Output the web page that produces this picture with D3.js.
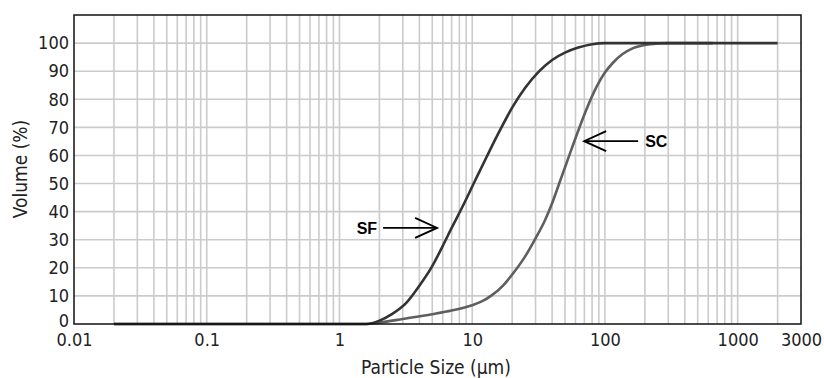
<!DOCTYPE html>
<html><head><meta charset="utf-8">
<script src="https://cdn.jsdelivr.net/npm/d3@7"></script>
<style>
body{margin:0;background:#fff;}
text{font-family:"DejaVu Sans Condensed","DejaVu Sans",sans-serif;}
</style></head>
<body><svg id="c" width="824" height="378"></svg>
<script>
// Data
const xTickLabels = [0.01, 0.1, 1, 10, 100, 1000, 3000];
const yTickLabels = [0,10,20,30,40,50,60,70,80,90,100];
const sfSize = [0.02,1.6,2,2.5,3.2,4,5,6,7,8.5,10.5,13,16.2,20,25,32,40,50,63,80,100,2000];
const sfVol  = [0,0,1.2,3.6,7.6,13.6,20.6,27.8,34.2,42,51,60,69,77,84,90,94,96.6,98.4,99.6,100,100];
const scSize = [0.02,1.6,2,3,5,7,10,12,14,17,20.3,25,30,35,40,46,52,62,72,82,100,115,135,163,220,300,650];
const scVol  = [0,0,0.5,1.8,3.5,4.8,6.7,8.2,10.2,13.6,18,24,30.5,36.5,43,51,58,68,76,82.2,89.5,93,96,98.2,99.6,100,100];
const labels = [{name:"SF", x:5.44, y:34.2, dir:1}, {name:"SC", x:69.7, y:65.1, dir:-1}];

const svg = d3.select("#c");
const m = {l:74, r:801, t:15, b:324};
const x = d3.scaleLog().domain([0.01,3000]).range([m.l,m.r]);
const y = d3.scaleLinear().domain([0,110]).range([m.b,m.t]);
const FONT = '"DejaVu Sans Condensed","DejaVu Sans",sans-serif';

// grid
const minor = [];
for (let e=-2; e<=3; e++) for (let k=1;k<=9;k++){ const v=k*Math.pow(10,e); if(v>0.01 && v<3000) minor.push(v); }
const g = svg.append("g");
g.selectAll("line.v").data(minor).join("line")
 .attr("x1",d=>x(d)).attr("x2",d=>x(d)).attr("y1",m.t).attr("y2",m.b)
 .attr("stroke","#cbcbcb").attr("stroke-width",1.6);
g.selectAll("line.h").data(yTickLabels.filter(d=>d>0)).join("line")
 .attr("x1",m.l).attr("x2",m.r).attr("y1",d=>y(d)).attr("y2",d=>y(d))
 .attr("stroke","#cbcbcb").attr("stroke-width",1.6);

// axes labels
const xa = svg.append("g").attr("transform",`translate(0,${m.b})`)
 .call(d3.axisBottom(x).tickValues(xTickLabels).tickFormat(d=>String(d)).tickSize(0).tickPadding(9));
xa.select(".domain").remove();
xa.selectAll("text").attr("font-size",18).attr("fill","#222").style("font-family",FONT);
const ya = svg.append("g").attr("transform",`translate(${m.l},0)`)
 .call(d3.axisLeft(y).tickValues(yTickLabels).tickSize(0).tickPadding(5));
ya.select(".domain").remove();
ya.selectAll("text").attr("font-size",18).attr("fill","#222").style("font-family",FONT);
ya.selectAll(".tick").filter(d=>d===0).select("text").attr("dy","0.12em");

// curves
const line = d3.line().x(d=>x(d[0])).y(d=>y(d[1])).curve(d3.curveMonotoneX);
svg.append("path").datum(scSize.map((s,i)=>[s,scVol[i]])).attr("d",line)
 .attr("fill","none").attr("stroke","#5f5f5f").attr("stroke-width",2.6);
svg.append("path").datum(sfSize.map((s,i)=>[s,sfVol[i]])).attr("d",line)
 .attr("fill","none").attr("stroke","#333").attr("stroke-width",2.6);

// frame
svg.append("rect").attr("x",m.l).attr("y",m.t).attr("width",m.r-m.l).attr("height",m.b-m.t)
 .attr("fill","none").attr("stroke","#111").attr("stroke-width",1.5);

// annotations
labels.forEach(a=>{
  const tx=x(a.x), ty=y(a.y), d=a.dir;
  const ag = svg.append("g").attr("stroke","#000").attr("stroke-width",1.8).attr("fill","none");
  ag.append("line").attr("x1",tx-d*54).attr("y1",ty).attr("x2",tx).attr("y2",ty);
  ag.append("path").attr("d",`M${tx-d*22},${ty-10}L${tx},${ty}L${tx-d*22},${ty+10}`);
  svg.append("text").attr("x", d>0 ? tx-d*60 : tx+61).attr("y",ty+6)
   .attr("text-anchor", d>0?"end":"start").attr("font-size",16).attr("font-weight","bold")
   .style("font-family","Liberation Sans, Arial, sans-serif").text(a.name);
});

svg.append("text").attr("x",436).attr("y",374).attr("text-anchor","middle").attr("font-size",19).attr("fill","#222").text("Particle Size (µm)");
svg.append("text").attr("transform","translate(27,169) rotate(-90)").attr("text-anchor","middle").attr("font-size",19).attr("fill","#222").text("Volume (%)");
</script></body></html>
